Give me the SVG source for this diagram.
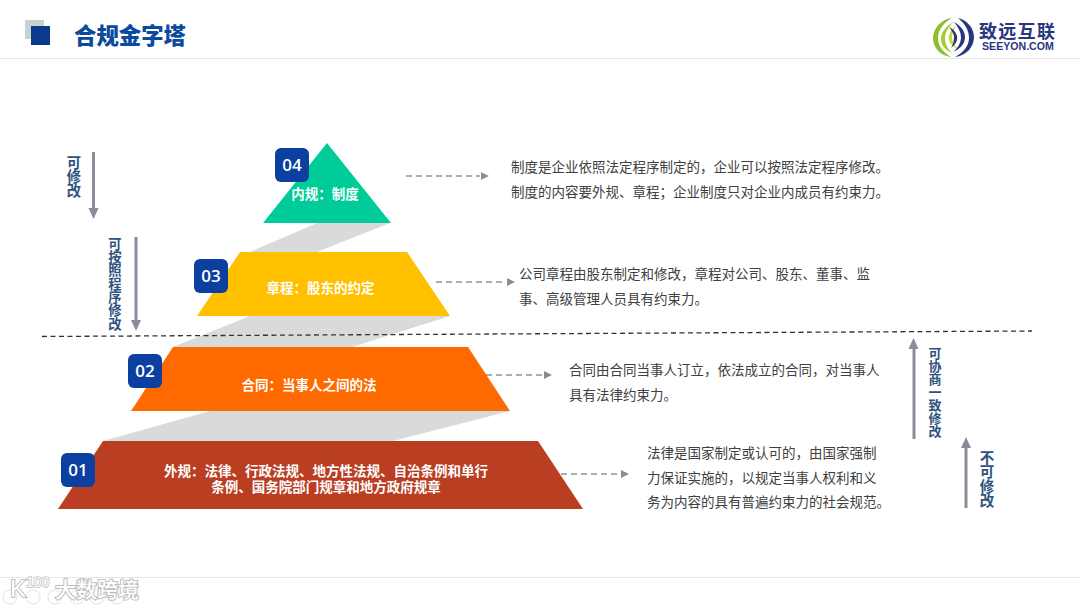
<svg xmlns="http://www.w3.org/2000/svg" width="1080" height="608" viewBox="0 0 1080 608">
<style>
text{font-family:"Noto Sans CJK SC","Liberation Sans",sans-serif}
.lbl{fill:#fff;font-size:13.5px;font-weight:700;text-anchor:middle}
.num{fill:#fff;font-size:17px;font-weight:600;text-anchor:middle;font-family:"Open Sans","Noto Sans",sans-serif}
.desc{fill:#404040;font-size:13.5px}
.side{fill:#2F5380;font-weight:700;writing-mode:vertical-rl}
.badge{fill:#0B3FA0}
.band{fill:#D9DADC}
.ar{stroke:#8A8D99;stroke-width:3;fill:none}
.ah{fill:#8A8D99}
.dash{stroke:#8F9298;stroke-width:1.5;stroke-dasharray:6 4;fill:none}
.rule{stroke:#E8E8E8;stroke-width:1}
.wm{fill:#fff;stroke:#BDBDBD;paint-order:stroke}
.wc{fill:none;stroke:#EDEDED;stroke-width:1.500}
</style>
<rect width="1080" height="608" fill="#fff"/>
<g id="header">
<rect x="25" y="20" width="19" height="19" fill="#C3D4CE"/>
<rect x="31" y="26" width="19" height="19" fill="#0B3A8C"/>
<text x="74" y="44" font-size="22.400" font-weight="900" fill="#0B4A9E">合规金字塔</text>
<line class="rule" x1="0" y1="58.500" x2="1080" y2="58.500"/>
<line class="rule" x1="0" y1="577.500" x2="1080" y2="577.500"/>
</g>
<g id="logo">
<path d="M952 18C941 19 933 29 933 38C933 48 941 56 951 57C943 52 938 46 938 38C938 30 944 22 952 18Z" fill="#8DBE2E"/>
<path d="M954 22C946 26 941 32 941 39C941 45 945 50 952 53C947 48 945 43 945 38C945 32 949 26 954 22Z" fill="#A6CB31"/>
<path d="M956 26C950 30 948 35 949 40C950 44 953 47 958 49C954 45 952 41 952 37C952 33 954 29 956 26Z" fill="#C3DC45"/>
<path d="M955 57C966 56 974 47 974 37C974 28 967 20 958 18C965 24 969 30 969 38C969 46 963 53 955 57Z" fill="#27367F"/>
<path d="M953 52C960 49 965 44 965 37C965 31 961 26 954 22C958 27 961 32 961 37C961 43 958 48 953 52Z" fill="#27367F"/>
<path d="M951 48C955 45 958 41 957 36C956 32 953 29 949 27C952 31 954 34 954 37C954 41 953 45 951 48Z" fill="#27367F"/>
<text fill="#27367F" font-weight="700"><tspan x="979" y="38" font-size="18" letter-spacing="1.300">致远互联</tspan><tspan x="982" y="50" font-size="10.600" style="font-family:'Liberation Sans',sans-serif">SEEYON.COM</tspan></text>
</g>
<g id="watermark">
<circle class="wc" cx="10" cy="597" r="7"/><circle class="wc" cx="33" cy="597" r="7"/><circle class="wc" cx="55" cy="597" r="7"/><circle class="wc" cx="77" cy="597" r="7"/><circle class="wc" cx="97" cy="597" r="7"/><circle class="wc" cx="117" cy="597" r="7"/>
<text class="wm" x="10" y="597" font-size="24" stroke-width="2" style="font-family:'Liberation Sans',sans-serif">K</text>
<text class="wm" x="26" y="587" font-size="14" stroke-width="1.500" style="font-family:'Liberation Sans',sans-serif">100</text>
<text class="wm" x="55" y="597" font-size="21" font-weight="500" stroke-width="2">大数跨境</text>
</g>
<g id="connectors">
<polygon class="band" points="317,223 390,223 317,252 250,252"/>
<polygon class="band" points="250,316 450,316 352,347 173,347"/>
<polygon class="band" points="210,411 510,411 393,441 103,441"/>
<path d="M42 336.500L1032 331" fill="none" stroke="#333" stroke-width="1.300" stroke-dasharray="5 3.500"/>
<path class="dash" d="M406 176H480"/><path class="ah" d="M489 176L481 172V180Z"/>
<path class="dash" d="M436 282H506"/><path class="ah" d="M515 282L507 278V286Z"/>
<path class="dash" d="M486 375H543"/><path class="ah" d="M552 375L544 371V379Z"/>
<path class="dash" d="M561 474H620"/><path class="ah" d="M629 474L621 470V478Z"/>
<path class="ar" d="M93.500 152V210"/><path class="ah" d="M93.500 219L88.500 208H98.500Z"/>
<path class="ar" d="M136 237V322"/><path class="ah" d="M136 331L131 320H141Z"/>
<path class="ar" d="M914 439V348"/><path class="ah" d="M913.500 338L908.500 349H918.500Z"/>
<path class="ar" d="M966 508V447"/><path class="ah" d="M966 437L961 448H971Z"/>
</g>
<g id="node-04">
<polygon points="327,143 391,223 263,223" fill="#00CC99"/>
<rect class="badge" x="275" y="148" width="34" height="34" rx="6"/>
<text class="num" x="292" y="171">04</text>
<text class="lbl" x="325" y="199">内规：制度</text>
</g>
<g id="node-03">
<polygon points="240,252 407,252 450,316 197,316" fill="#FFC000"/>
<rect class="badge" x="194" y="259" width="34" height="34" rx="6"/>
<text class="num" x="211" y="282">03</text>
<text class="lbl" x="320.500" y="293">章程：股东的约定</text>
</g>
<g id="node-02">
<polygon points="173,347 468,347 510,411 131,411" fill="#FF6A00"/>
<rect class="badge" x="128" y="354" width="34" height="34" rx="6"/>
<text class="num" x="145" y="377">02</text>
<text class="lbl" x="309" y="390">合同：当事人之间的法</text>
</g>
<g id="node-01">
<polygon points="103,441 538,441 583,509 58,509" fill="#B93E22"/>
<rect class="badge" x="61" y="453" width="34" height="34" rx="6"/>
<text class="num" x="78" y="476">01</text>
<text class="lbl"><tspan x="326" y="476">外规：法律、行政法规、地方性法规、自治条例和单行</tspan><tspan x="326" y="492">条例、国务院部门规章和地方政府规章</tspan></text>
</g>
<g id="descriptions">
<text class="desc" x="511" y="172">制度是企业依照法定程序制定的，企业可以按照法定程序修改。</text>
<text class="desc" x="511" y="197">制度的内容要外规、章程；企业制度只对企业内成员有约束力。</text>
<text class="desc" x="519" y="279">公司章程由股东制定和修改，章程对公司、股东、董事、监</text>
<text class="desc" x="519" y="304">事、高级管理人员具有约束力。</text>
<text class="desc" x="569" y="375">合同由合同当事人订立，依法成立的合同，对当事人</text>
<text class="desc" x="569" y="400">具有法律约束力。</text>
<text class="desc" x="647" y="458">法律是国家制定或认可的，由国家强制</text>
<text class="desc" x="647" y="483">力保证实施的，以规定当事人权利和义</text>
<text class="desc" x="647" y="507">务为内容的具有普遍约束力的社会规范。</text>
</g>
<g id="side-labels">
<text class="side" x="74" y="155" font-size="14.300">可修改</text>
<text class="side" x="115" y="237" font-size="13.300">可按照程序修改</text>
<text class="side" x="935" y="347" font-size="13">可协商一致修改</text>
<text class="side" x="987" y="450" font-size="14.500">不可修改</text>
</g>
</svg>
